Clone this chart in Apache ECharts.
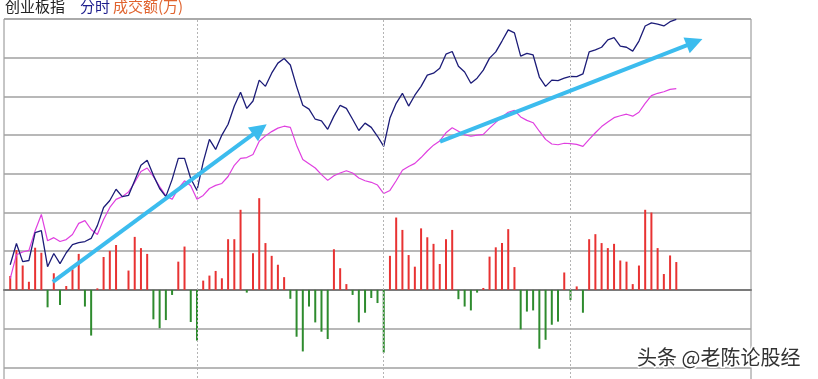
<!DOCTYPE html>
<html>
<head>
<meta charset="utf-8">
<script src="https://cdn.jsdelivr.net/npm/echarts@6/dist/echarts.min.js"></script>
<style>
html,body{margin:0;padding:0;background:#fff;overflow:hidden;}
#chart{width:818px;height:420px;}
</style>
</head>
<body>
<div id="chart"></div>
<script>
// minutes since 09:30, one sample every 2 minutes
const stepMinutes = 2;
const hourMarks = [60, 120, 180];

// 分时 (index line)
const indexLine = [
1936.5,1942.0,1937.3,1937.6,1944.8,1945.3,1936.0,1939.4,1936.8,1939.6,
1941.7,1942.2,1942.5,1943.3,1946.6,1951.3,1953.1,1956.0,1954.1,1954.4,
1958.3,1962.2,1963.5,1959.6,1956.2,1954.1,1958.5,1964.0,1964.0,1958.8,
1955.7,1963.0,1968.9,1966.3,1970.0,1972.8,1977.5,1981.1,1976.9,1978.8,
1984.2,1982.6,1986.0,1988.6,1989.8,1988.1,1982.6,1977.7,1976.7,1974.1,
1973.7,1971.5,1974.9,1977.7,1976.9,1974.1,1971.2,1973.1,1972.0,1969.7,
1967.1,1974.4,1978.2,1980.8,1977.5,1980.3,1982.6,1985.5,1986.0,1987.3,
1990.9,1991.6,1987.8,1986.3,1983.4,1984.7,1986.8,1989.9,1991.5,1994.3,
1997.2,1996.4,1990.4,1991.1,1990.7,1985.0,1982.6,1984.2,1984.1,1984.7,
1985.2,1985.1,1985.8,1991.5,1992.0,1992.7,1994.6,1995.2,1993.0,1992.7,
1991.7,1994.3,1998.2,1999.0,1998.7,1998.2,1999.3,1999.9
];

// second (magenta) line
const avgLine = [
1932.9,1939.1,1939.8,1940.2,1945.3,1949.5,1942.7,1943.5,1942.5,1943.0,
1944.3,1947.2,1947.9,1945.6,1944.3,1948.2,1951.3,1953.4,1954.1,1955.3,
1957.8,1960.6,1961.5,1959.3,1956.7,1954.3,1953.4,1956.2,1958.2,1956.9,
1953.4,1954.4,1956.2,1957.0,1957.5,1959.3,1962.2,1964.0,1964.2,1965.0,
1968.4,1969.8,1970.9,1971.8,1972.3,1972.0,1967.4,1963.7,1962.6,1961.5,
1959.8,1958.3,1959.5,1960.2,1960.8,1960.2,1958.9,1958.2,1957.8,1957.1,
1954.9,1955.7,1958.2,1960.9,1961.9,1962.7,1964.2,1965.9,1967.4,1968.5,
1970.6,1971.9,1971.0,1970.1,1969.7,1970.0,1970.2,1971.8,1973.3,1974.7,
1975.9,1976.4,1974.7,1973.8,1973.2,1971.0,1968.9,1967.7,1967.5,1967.9,
1967.8,1967.6,1967.1,1968.9,1970.6,1972.2,1973.4,1974.5,1975.0,1975.4,
1974.9,1975.9,1978.2,1980.2,1980.8,1981.2,1981.8,1982.0
];

// 成交额 bars (red up / green down)
const volBars = [
36,103,63,21,109,96,-45,43,-39,10,
53,93,-43,-118,4,85,101,116,0,50,
137,108,93,-76,-99,-78,-13,73,112,-83,
-131,24,37,49,30,131,131,207,-7,95,
237,121,88,65,33,-23,-121,-159,-43,-84,
-108,-127,105,56,15,-13,-84,-59,-21,-34,
-162,88,187,155,90,60,159,136,119,67,
131,155,-24,-43,-53,-7,5,86,110,121,
157,59,-102,-56,-53,-152,-129,-90,-82,45,
-26,9,-59,131,144,121,108,119,76,73,
15,63,207,200,108,41,89,72
];

// annotation arrows in data coordinates [startMinute, startValue, tipMinute, tipValue]
const arrows = [
  [13.7, 1932.1, 82.4, 1972.8],
  [138.1, 1968.3, 222.4, 1994.8]
];

const minutes = indexLine.map((_, i) => i * stepMinutes);
const pair = arr => arr.map((v, i) => [minutes[i], v]);

function renderArrow(params, api) {
  const p0 = api.coord([api.value(0), api.value(1)]);
  const p1 = api.coord([api.value(2), api.value(3)]);
  const dx = p1[0] - p0[0], dy = p1[1] - p0[1];
  const len = Math.sqrt(dx * dx + dy * dy);
  const ux = dx / len, uy = dy / len;
  const headLen = 17, headHalf = 8.5;
  const bx = p1[0] - ux * headLen, by = p1[1] - uy * headLen;
  const color = '#3cbcee';
  return {
    type: 'group',
    children: [
      {type: 'line', shape: {x1: p0[0], y1: p0[1], x2: bx + ux * 2, y2: by + uy * 2},
       style: {stroke: color, lineWidth: 4, lineCap: 'butt'}},
      {type: 'polygon', shape: {points: [
        [p1[0], p1[1]],
        [bx - uy * headHalf, by + ux * headHalf],
        [bx + uy * headHalf, by - ux * headHalf]
      ]}, style: {fill: color}}
    ]
  };
}

const chart = echarts.init(document.getElementById('chart'), null, {renderer: 'canvas'});
const option = {
  animation: false,
  backgroundColor: '#ffffff',
  grid: {left: 4, width: 747, top: 19, height: 387, show: true, borderColor: '#8c8c8c', borderWidth: 1},
  xAxis: {
    type: 'value', min: -2, max: 238,
    axisLine: {show: true, onZero: true, onZeroAxisIndex: 0, lineStyle: {color: '#7a7a7a', width: 2}},
    axisTick: {show: false}, axisLabel: {show: false}, splitLine: {show: false}
  },
  yAxis: [
    {type: 'value', min: -300, max: 700, interval: 100,
     axisLine: {show: false}, axisTick: {show: false}, axisLabel: {show: false},
     splitLine: {show: true, lineStyle: {color: '#a0a0a0', width: 1.5}}},
    {type: 'value', min: 1900, max: 2000,
     axisLine: {show: false}, axisTick: {show: false}, axisLabel: {show: false},
     splitLine: {show: false}}
  ],
  series: [
    {
      type: 'bar', yAxisIndex: 0, barWidth: 2,
      data: pair(volBars),
      itemStyle: {color: p => (p.value[1] >= 0 ? '#e83232' : '#2e8b2e')},
      markLine: {
        silent: true, symbol: 'none', label: {show: false},
        lineStyle: {color: '#b4b4b4', type: [2, 2], width: 1},
        data: hourMarks.map(m => ({xAxis: m}))
      }
    },
    {
      type: 'line', yAxisIndex: 1, showSymbol: false,
      data: pair(avgLine),
      lineStyle: {color: '#e040e0', width: 1.2}
    },
    {
      type: 'line', yAxisIndex: 1, showSymbol: false,
      data: pair(indexLine),
      lineStyle: {color: '#1c1c78', width: 1.3}
    },
    {
      type: 'custom', yAxisIndex: 1, z: 10, silent: true, clip: false,
      renderItem: renderArrow,
      encode: {x: [0, 2], y: [1, 3]},
      data: arrows
    }
  ],
  graphic: [
    {type: 'text', x: 5, y: 6, style: {text: '创业板指', fill: '#222', font: '15px "Noto Sans CJK SC"', textVerticalAlign: 'middle'}},
    {type: 'text', x: 80, y: 6, style: {text: '分时', fill: '#1c1c8c', font: '15px "Noto Sans CJK SC"', textVerticalAlign: 'middle'}},
    {type: 'text', x: 113, y: 6, style: {text: '成交额(万)', fill: '#e0632e', font: '15px "Noto Sans CJK SC"', textVerticalAlign: 'middle'}},
    {type: 'text', x: 637, y: 357, z: 100, style: {text: '头条 @老陈论股经', fill: '#333', stroke: '#ffffff', lineWidth: 3, font: '20px "Noto Sans CJK SC"', textVerticalAlign: 'middle'}}
  ]
};
chart.setOption(option);
</script>
</body>
</html>
